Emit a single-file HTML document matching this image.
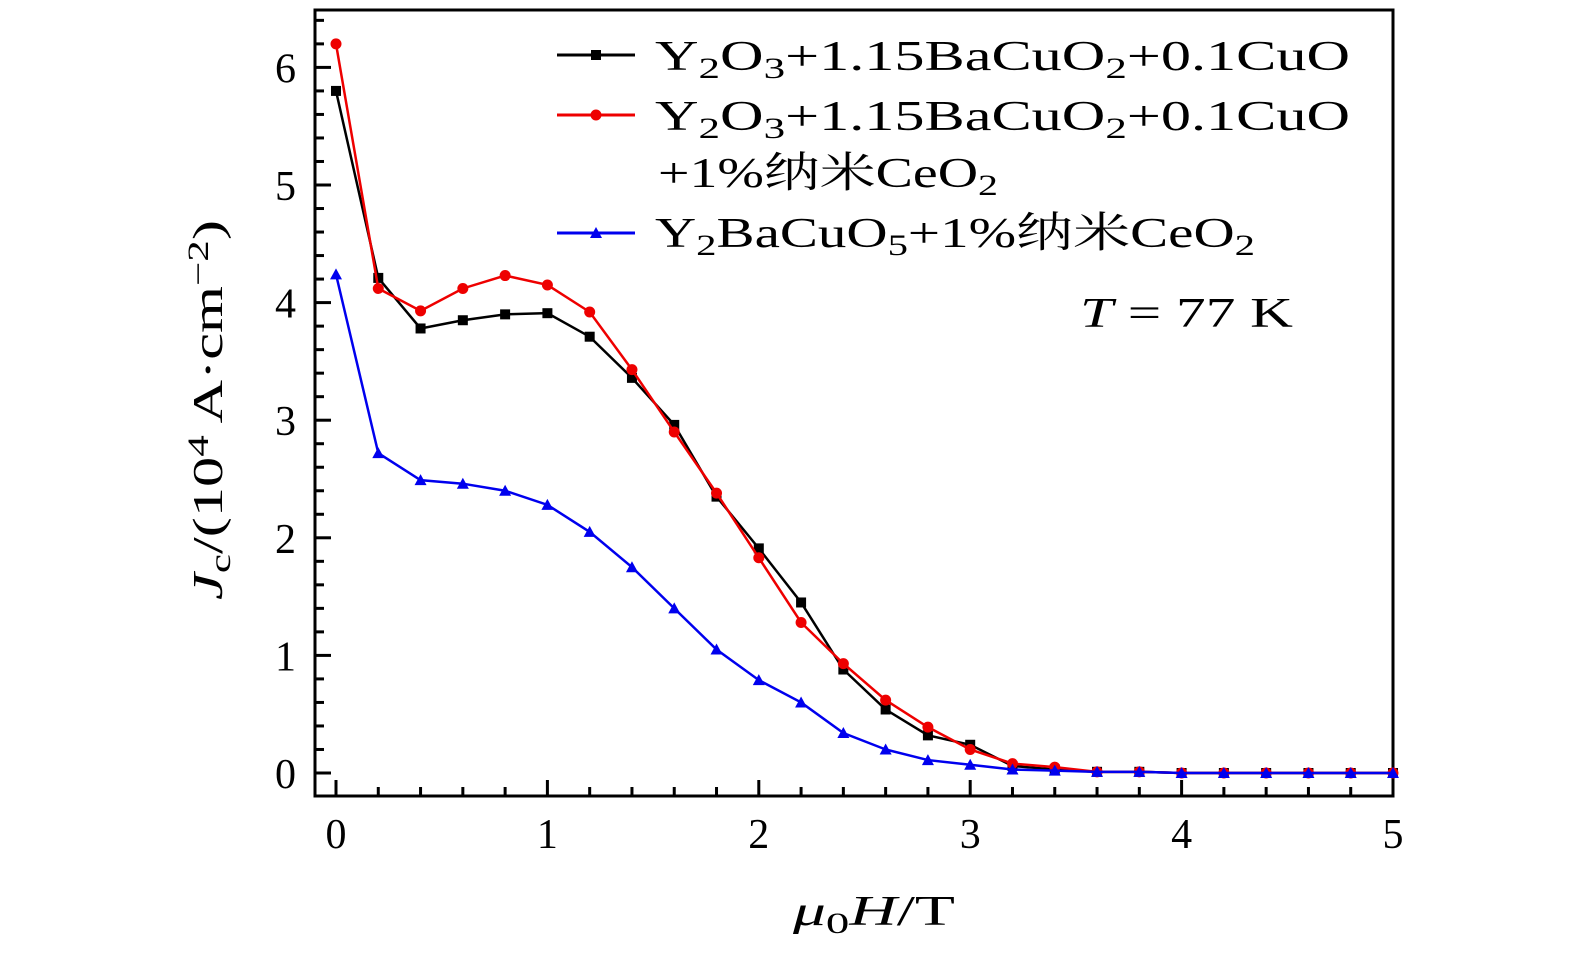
<!DOCTYPE html>
<html><head><meta charset="utf-8"><style>
body{margin:0;background:#fff}
svg text{font-family:"Liberation Serif","Noto Serif CJK SC",serif;fill:#000}
</style></head><body>
<svg id="c" width="1575" height="955" xmlns="http://www.w3.org/2000/svg">
<g id="plot"></g>
<g font-size="42">
 <line x1="557" y1="55" x2="635" y2="55" stroke="#000" stroke-width="3"/><rect x="591" y="50" width="10" height="10" fill="#000"/>
 <text x="655" y="70" textLength="695" lengthAdjust="spacingAndGlyphs">Y<tspan font-size="30" dy="8">2</tspan><tspan dy="-8">O</tspan><tspan font-size="30" dy="8">3</tspan><tspan dy="-8">+1.15BaCuO</tspan><tspan font-size="30" dy="8">2</tspan><tspan dy="-8">+0.1CuO</tspan></text>
 <line x1="557" y1="115" x2="635" y2="115" stroke="#e00" stroke-width="3"/><circle cx="596" cy="115" r="5.5" fill="#e00"/>
 <text x="655" y="130" textLength="695" lengthAdjust="spacingAndGlyphs">Y<tspan font-size="30" dy="8">2</tspan><tspan dy="-8">O</tspan><tspan font-size="30" dy="8">3</tspan><tspan dy="-8">+1.15BaCuO</tspan><tspan font-size="30" dy="8">2</tspan><tspan dy="-8">+0.1CuO</tspan></text>
 <text x="658" y="187" textLength="340" lengthAdjust="spacingAndGlyphs">+1%纳米CeO<tspan font-size="30" dy="8">2</tspan></text>
 <line x1="557" y1="233" x2="635" y2="233" stroke="#00e" stroke-width="3"/><polygon points="596,227 602,238 590,238" fill="#00e"/>
 <text x="655" y="247" textLength="600" lengthAdjust="spacingAndGlyphs">Y<tspan font-size="30" dy="8">2</tspan><tspan dy="-8">BaCuO</tspan><tspan font-size="30" dy="8">5</tspan><tspan dy="-8">+1%纳米CeO</tspan><tspan font-size="30" dy="8">2</tspan></text>
</g>
<text x="1080" y="327" font-size="42" textLength="213" lengthAdjust="spacingAndGlyphs"><tspan font-style="italic">T</tspan> = 77 K</text>
<text x="793" y="925" font-size="42" textLength="162" lengthAdjust="spacingAndGlyphs"><tspan font-style="italic">μ</tspan><tspan font-size="30" dy="8">0</tspan><tspan dy="-8" font-style="italic">H</tspan>/T</text>
<text transform="translate(222,410) rotate(-90)" text-anchor="middle" font-size="42" textLength="380" lengthAdjust="spacingAndGlyphs"><tspan font-style="italic">J</tspan><tspan font-size="30" dy="8">c</tspan><tspan dy="-8">/(10</tspan><tspan font-size="30" dy="-14">4</tspan><tspan dy="14"> A·cm</tspan><tspan font-size="30" dy="-14">−2</tspan><tspan dy="14">)</tspan></text>
</svg>
<script>
const xs=[0,0.2,0.4,0.6,0.8,1,1.2,1.4,1.6,1.8,2,2.2,2.4,2.6,2.8,3,3.2,3.4,3.6,3.8,4,4.2,4.4,4.6,4.8,5];
const black=[5.8,4.21,3.78,3.85,3.90,3.91,3.71,3.36,2.96,2.35,1.91,1.45,0.88,0.54,0.32,0.24,0.06,0.03,0.01,0.01,0,0,0,0,0,0];
const red=[6.2,4.12,3.93,4.12,4.23,4.15,3.92,3.43,2.90,2.38,1.83,1.28,0.93,0.62,0.39,0.20,0.08,0.05,0.01,0.01,0,0,0,0,0,0];
const blue=[4.24,2.72,2.49,2.46,2.40,2.28,2.05,1.75,1.40,1.05,0.79,0.60,0.34,0.20,0.11,0.07,0.03,0.02,0.01,0.01,0,0,0,0,0,0];
const xTicks=[0,1,2,3,4,5];
const yTicks=[0,1,2,3,4,5,6];
const X=v=>336+v*211.4, Y=v=>773-v*117.6;
const L=315,R=1393,T=10,B=796;
const NS="http://www.w3.org/2000/svg",g=document.getElementById('plot');
function mk(t,a){const e=document.createElementNS(NS,t);for(const k in a)e.setAttribute(k,a[k]);g.appendChild(e);return e;}
let f=mk('rect',{x:L,y:T,width:R-L,height:B-T,fill:'none',stroke:'#000','stroke-width':3});


for(let i=0;i<=25;i++){const v=i*0.2,x=X(v),len=i%5==0?16:9;
 mk('line',{x1:x,y1:B,x2:x,y2:B-len,stroke:'#000','stroke-width':3});}
for(let i=0;i<=33;i++){const v=i*0.2,y=Y(v);if(y<T)continue;const len=i%5==0?16:9;
 mk('line',{x1:L,y1:y,x2:L+len,y2:y,stroke:'#000','stroke-width':3});}
xTicks.forEach(v=>{const t=mk('text',{x:X(v),y:848,'text-anchor':'middle','font-size':42});t.textContent=v;
 
 });
yTicks.forEach(v=>{const t=mk('text',{x:296,y:Y(v)+15,'text-anchor':'end','font-size':42});t.textContent=v;
 
 });
function series(d,col,shape,name){
 const p=mk('polyline',{points:d.map((v,i)=>X(xs[i])+','+Y(v)).join(' '),fill:'none',stroke:col,'stroke-width':2.5});
 
 
 d.forEach((v,i)=>{const x=X(xs[i]),y=Y(v);let m;
  if(shape=='s')m=mk('rect',{x:x-5,y:y-5,width:10,height:10,fill:col});
  else if(shape=='c')m=mk('circle',{cx:x,cy:y,r:5.5,fill:col});
  else m=mk('polygon',{points:`${x},${y-6} ${x+6},${y+5} ${x-6},${y+5}`,fill:col});
  
  });
}
series(black,'#000','s','black-series');
series(red,'#e00','c','red-series');
series(blue,'#00e','t','blue-series');
</script>
</body></html>
